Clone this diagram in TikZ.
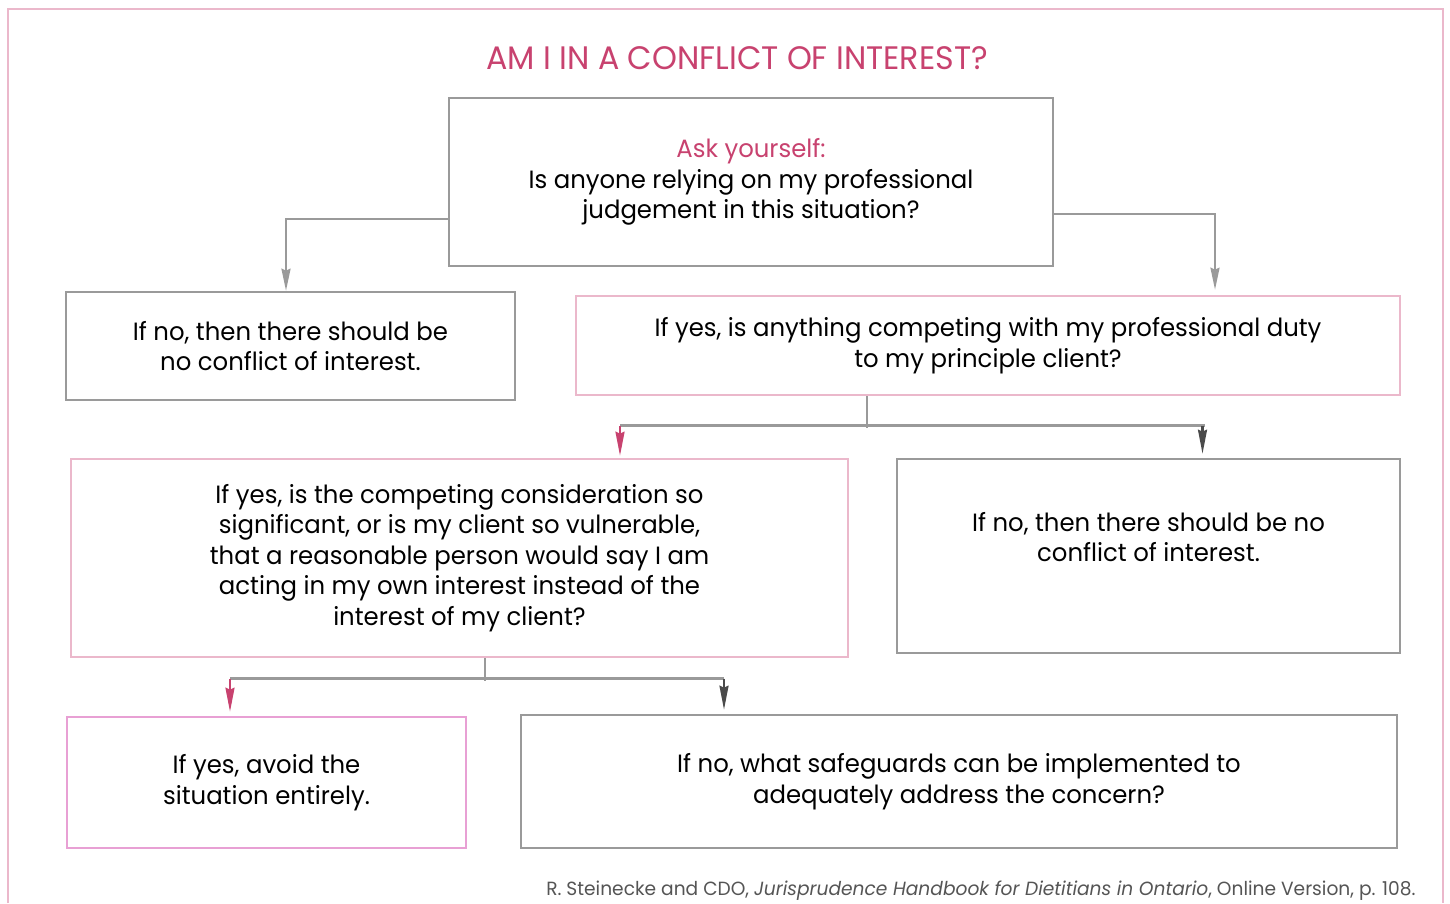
\documentclass[tikz,border=0pt]{standalone}
\usepackage{fontspec}
\setmainfont{Poppins}[FakeStretch=0.975]
\usetikzlibrary{arrows.meta,calc}
\definecolor{framepink}{HTML}{EBB8CB}
\definecolor{boxpink}{HTML}{EBB8CB}
\definecolor{boxmag}{HTML}{E8A0D4}
\definecolor{titlecol}{HTML}{C8426F}
\definecolor{linegray}{HTML}{9A9A9A}
\definecolor{darkarrow}{HTML}{4A4A4A}
\definecolor{foot}{HTML}{555555}
\begin{document}
\begin{tikzpicture}[x=1pt,y=-1pt,
  txt/.style={font=\fontsize{25}{30.5}\selectfont, align=center, text=black},
  graybox/.style={draw=linegray, line width=2.6pt, inner sep=0pt},
  pinkbox/.style={draw=boxpink, line width=2.6pt, inner sep=0pt},
  magbox/.style={draw=boxmag, line width=2.6pt, inner sep=0pt},
  gline/.style={draw=linegray, line width=2.6pt},
  garrow/.style={draw=linegray, line width=2.2pt, -{Stealth[length=22pt,width=9pt,inset=2pt]}},
  parrow/.style={draw=titlecol, line width=2.2pt, -{Stealth[length=24pt,width=9pt,inset=2pt]}},
  darrow/.style={draw=darkarrow, line width=2.2pt, -{Stealth[length=24pt,width=9pt,inset=2pt]}},
]
\useasboundingbox (0,0) rectangle (1450,903);
\fill[white] (0,0) rectangle (1450,903);
% outer frame
\draw[framepink, line width=2pt] (8,903) -- (8,9) -- (1443,9) -- (1443,903);
% title
\node[font=\fontsize{32.5}{36}\selectfont, text=titlecol] (title) at (737,58) {AM I IN A CONFLICT OF INTEREST?};
% boxes
\node[graybox, minimum width=604pt, minimum height=168pt, txt] (box1) at (751,182)
  {\textcolor{titlecol}{Ask yourself:}\\Is anyone relying on my professional\\judgement in this situation?};
\node[graybox, minimum width=449pt, minimum height=108pt, txt] (box2) at (290.5,346)
  {If no, then there should be\\no conflict of interest.};
\node[pinkbox, minimum width=824pt, minimum height=99pt, txt] (box3) at (988,345.5)
  {If yes, is anything competing with my professional duty\\to my principle client?};
\node[pinkbox, minimum width=777pt, minimum height=198pt, txt] (box4) at (459.5,558)
  {If yes, is the competing consideration so\\significant, or is my client so vulnerable,\\that a reasonable person would say I am\\acting in my own interest instead of the\\interest of my client?};
\node[graybox, minimum width=503pt, minimum height=194pt] (box5) at (1148.5,556) {};
\node[txt] (box5text) at (1148.5,537) {If no, then there should be no\\conflict of interest.};
\node[magbox, minimum width=399pt, minimum height=131pt, txt] (box6) at (266.5,782.5)
  {If yes, avoid the\\situation entirely.};
\node[graybox, minimum width=876pt, minimum height=133pt, txt] (box7) at (959,781.5)
  {If no, what safeguards can be implemented to\\adequately address the concern?};
% connectors top
\draw[garrow] ([yshift=-37pt]box1.west) -| ([xshift=-4.5pt]box2.north);
\draw[garrow, shorten >=5pt] ([yshift=-32pt]box1.east) -| ([xshift=227pt]box3.north);
% connectors middle
\coordinate (j1) at ($(box3.south)+(-121,32)$);
\draw[gline] ([xshift=-121pt]box3.south) -- (j1);
\coordinate (pl) at ($(box4.north)+(160.5,-32)$);
\coordinate (pr) at ($(box5.north)+(56,-32)$);
\draw[gline] (pl) -- (pr);
\draw[parrow, shorten >=2pt] (pl) -- ([xshift=160.5pt]box4.north);
\draw[darrow, shorten >=4pt] ([xshift=-2pt]pr) -- ([xshift=54pt]box5.north);
% connectors bottom
\coordinate (j2) at ($(box4.south)+(25.5,23)$);
\draw[gline] ([xshift=25.5pt]box4.south) -- (j2);
\coordinate (ql) at ($(box6.north)+(-36.5,-37)$);
\coordinate (qr) at ($(box7.north)+(-235,-35)$);
\draw[gline] (ql) -- (qr);
\draw[parrow, shorten >=4pt] (ql) -- ([xshift=-36.5pt]box6.north);
\draw[darrow, shorten >=4pt] (qr) -- ([xshift=-235pt]box7.north);
% footer
\node[anchor=east, text=foot, font=\fontsize{19.1}{23}\selectfont] (footer) at (1419,891)
  {R. Steinecke and CDO, \textit{Jurisprudence Handbook for Dietitians in Ontario}, Online Version, p. 108.};
\end{tikzpicture}
\end{document}
